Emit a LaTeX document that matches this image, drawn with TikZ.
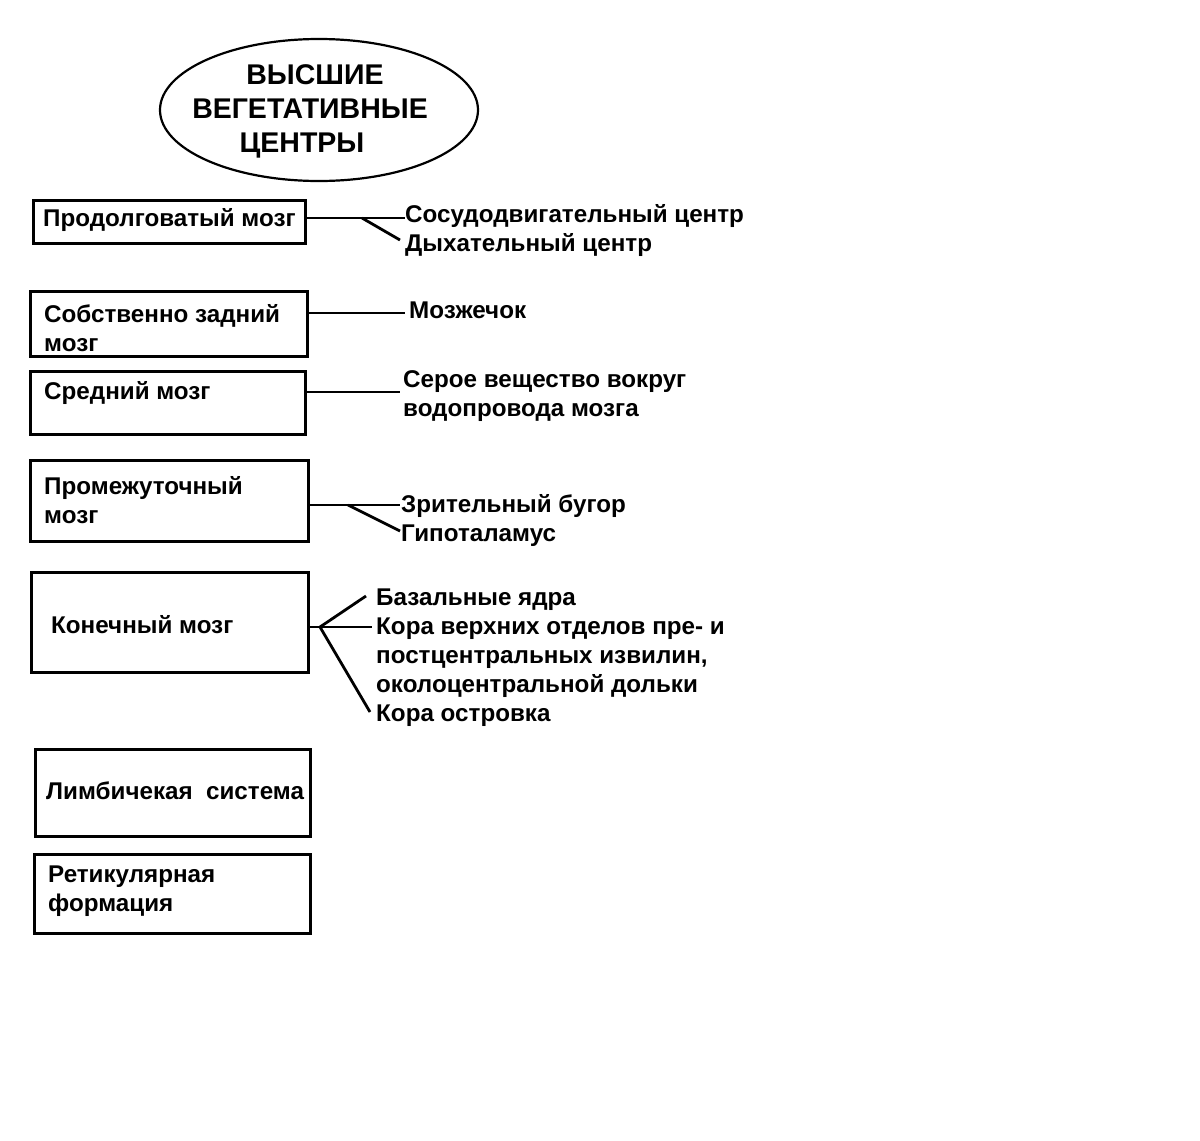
\documentclass[tikz,border=0pt]{standalone}
\usepackage{fontspec}
\setmainfont{Liberation Sans}
\usetikzlibrary{shapes.geometric}
\begin{document}
\begin{tikzpicture}[x=1pt,y=-1pt,
  box/.style={draw,line width=3pt,rectangle,inner sep=0pt},
  txt/.style={anchor=base west,inner sep=0pt,align=left,font=\fontsize{24.2}{29}\selectfont\bfseries},
  conn/.style={line width=2.8pt}]
\useasboundingbox (0,0) rectangle (1200,1141);
\node[draw,ellipse,line width=2.2pt,minimum width=318pt,minimum height=142pt] (title) at (319,110) {};
\node[align=center,inner sep=0pt,font=\fontsize{28.5}{34}\selectfont\bfseries] (tt) at (310,111) {\hspace*{10pt}ВЫСШИЕ\\ВЕГЕТАТИВНЫЕ\\ЦЕНТРЫ\hspace*{16pt}};
% boxes
\node[box,minimum width=272pt,minimum height=43pt] (b1) at (169,221.5) {};
\node[box,minimum width=277pt,minimum height=65pt] (b2) at (168.5,323.5) {};
\node[box,minimum width=275pt,minimum height=63pt] (b3) at (167.5,402.5) {};
\node[box,minimum width=278pt,minimum height=81pt] (b4) at (169,500.5) {};
\node[box,minimum width=277pt,minimum height=100pt] (b5) at (169.5,622) {};
\node[box,minimum width=275pt,minimum height=87pt] (b6) at (172.5,792.5) {};
\node[box,minimum width=276pt,minimum height=79pt] (b7) at (172,893.5) {};
% box texts (base = last line baseline)
\node[txt] (t1) at (43,226.5) {Продолговатый мозг};
\node[txt] (t2) at (44,351.5) {Собственно задний\\мозг};
\node[txt] (t3) at (44,399.5) {Средний мозг};
\node[txt] (t4) at (44,523.5) {Промежуточный\\мозг};
\node[txt] (t5) at (51,633.5) {Конечный мозг};
\node[txt] (t6) at (46,799.5) {Лимбичекая\ \ система};
\node[txt] (t7) at (48,911.5) {Ретикулярная\\формация};
% labels
\node[txt] (l1a) at (405,222.5) {Сосудодвигательный центр};
\node[txt] (l1b) at (405,251.5) {Дыхательный центр};
\node[txt] (l2) at (409,318.5) {Мозжечок};
\node[txt] (l3) at (403,416.5) {Серое вещество вокруг\\водопровода мозга};
\node[txt] (l4a) at (401,512.5) {Зрительный бугор};
\node[txt] (l4b) at (401,541.5) {Гипоталамус};
\node[txt] (l5a) at (376,605.5) {Базальные ядра};
\node[txt] (l5b) at (376,692.5) {Кора верхних отделов пре- и\\постцентральных извилин,\\околоцентральной дольки};
\node[txt] (l5c) at (376,721.5) {Кора островка};
% connector points
\coordinate (j1) at (362,218);
\coordinate (e1a) at (405,218);
\coordinate (e1b) at (400,240);
\coordinate (e2) at (405,313);
\coordinate (e3) at (400,392);
\coordinate (j4) at (348,505);
\coordinate (e4a) at (400,505);
\coordinate (e4b) at (400,531);
\coordinate (j5) at (320,627);
\coordinate (e5a) at (366,596);
\coordinate (e5b) at (372,627);
\coordinate (e5c) at (370,712);
% connectors
\draw[conn] (b1.east |- e1a) -- (e1a);
\draw[conn] (j1) -- (e1b);
\draw[conn] (b2.east |- e2) -- (e2);
\draw[conn] (b3.east |- e3) -- (e3);
\draw[conn] (b4.east |- e4a) -- (e4a);
\draw[conn] (j4) -- (e4b);
\draw[conn] (b5.east |- j5) -- (j5) -- (e5b);
\draw[conn] (j5) -- (e5a);
\draw[conn] (j5) -- (e5c);
\end{tikzpicture}
\end{document}
